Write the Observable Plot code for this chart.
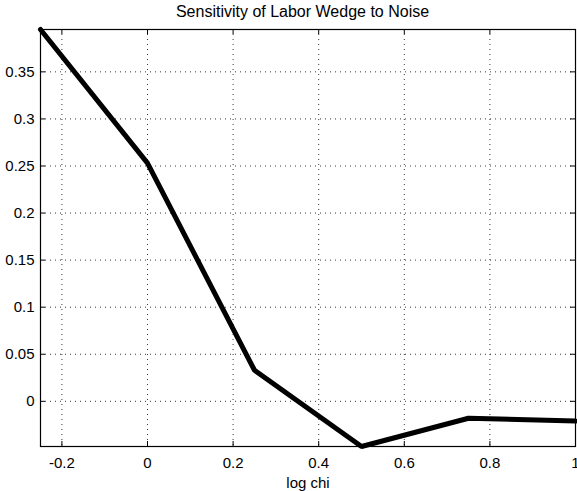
<!DOCTYPE html>
<html>
<head>
<meta charset="utf-8">
<script src="https://cdn.jsdelivr.net/npm/d3@7"></script>
<script src="https://cdn.jsdelivr.net/npm/@observablehq/plot@0.6"></script>
<style>
  html, body { margin: 0; padding: 0; background: #fff; }
  #title { font-family: "Liberation Sans", Arial, sans-serif; font-size: 16px; height: 22px; line-height: 23px; text-align: center; padding-left: 28px; width: 577px; box-sizing: border-box; color: #000; white-space: nowrap; }
</style>
</head>
<body>
<div id="title">Sensitivity of Labor Wedge to Noise</div>
<div id="chart"></div>
<script>
// log chi grid and the resulting labor wedge sensitivity
const logChi = [-0.25, 0, 0.25, 0.5, 0.75, 1];
const sensitivity = [0.395, 0.253, 0.033, -0.048, -0.018, -0.021];

const xTicks = [-0.2, 0, 0.2, 0.4, 0.6, 0.8, 1];
const yTicks = [0, 0.05, 0.1, 0.15, 0.2, 0.25, 0.3, 0.35];

const data = logChi.map((x, i) => ({x, y: sensitivity[i]}));
const fmt = d => String(d);

const W = 577, H = 469;
const M = {left: 40, right: 2, top: 7, bottom: 45};
const innerW = W - M.left - M.right;
const innerH = H - M.top - M.bottom;
const tick = 5; // inward tick length, box style on all four sides

const chart = Plot.plot({
  width: W,
  height: H,
  marginLeft: M.left,
  marginRight: M.right,
  marginTop: M.top,
  marginBottom: M.bottom,
  style: "font: 15px 'Liberation Sans', Arial, sans-serif; color: #000; background: #fff; overflow: visible;",
  x: {domain: [d3.min(logChi), d3.max(logChi)]},
  y: {domain: [d3.min(sensitivity), d3.max(sensitivity)]},
  marks: [
    Plot.gridX(xTicks, {stroke: "#222", strokeOpacity: 0.9, strokeDasharray: "1,4"}),
    Plot.gridY(yTicks, {stroke: "#222", strokeOpacity: 0.9, strokeDasharray: "1,4"}),
    // inward ticks
    Plot.tickX(xTicks, {x: d => d, stroke: "#000", insetTop: innerH - tick}),
    Plot.tickX(xTicks, {x: d => d, stroke: "#000", insetBottom: innerH - tick}),
    Plot.tickY(yTicks, {y: d => d, stroke: "#000", insetRight: innerW - tick}),
    Plot.tickY(yTicks, {y: d => d, stroke: "#000", insetLeft: innerW - tick}),
    Plot.axisX(xTicks, {anchor: "bottom", tickSize: 0, tickPadding: 11, tickFormat: fmt, label: "log chi", labelAnchor: "center", labelArrow: "none", labelOffset: 41, fontSize: 15}),
    Plot.axisY(yTicks, {anchor: "left", tickSize: 0, tickPadding: 6, tickFormat: fmt, label: null, fontSize: 15}),
    Plot.frame({stroke: "#000", strokeWidth: 1.2}),
    Plot.line(data, {x: "x", y: "y", stroke: "#000", strokeWidth: 5, strokeLinejoin: "miter"})
  ]
});
document.getElementById("chart").appendChild(chart);
</script>
</body>
</html>
